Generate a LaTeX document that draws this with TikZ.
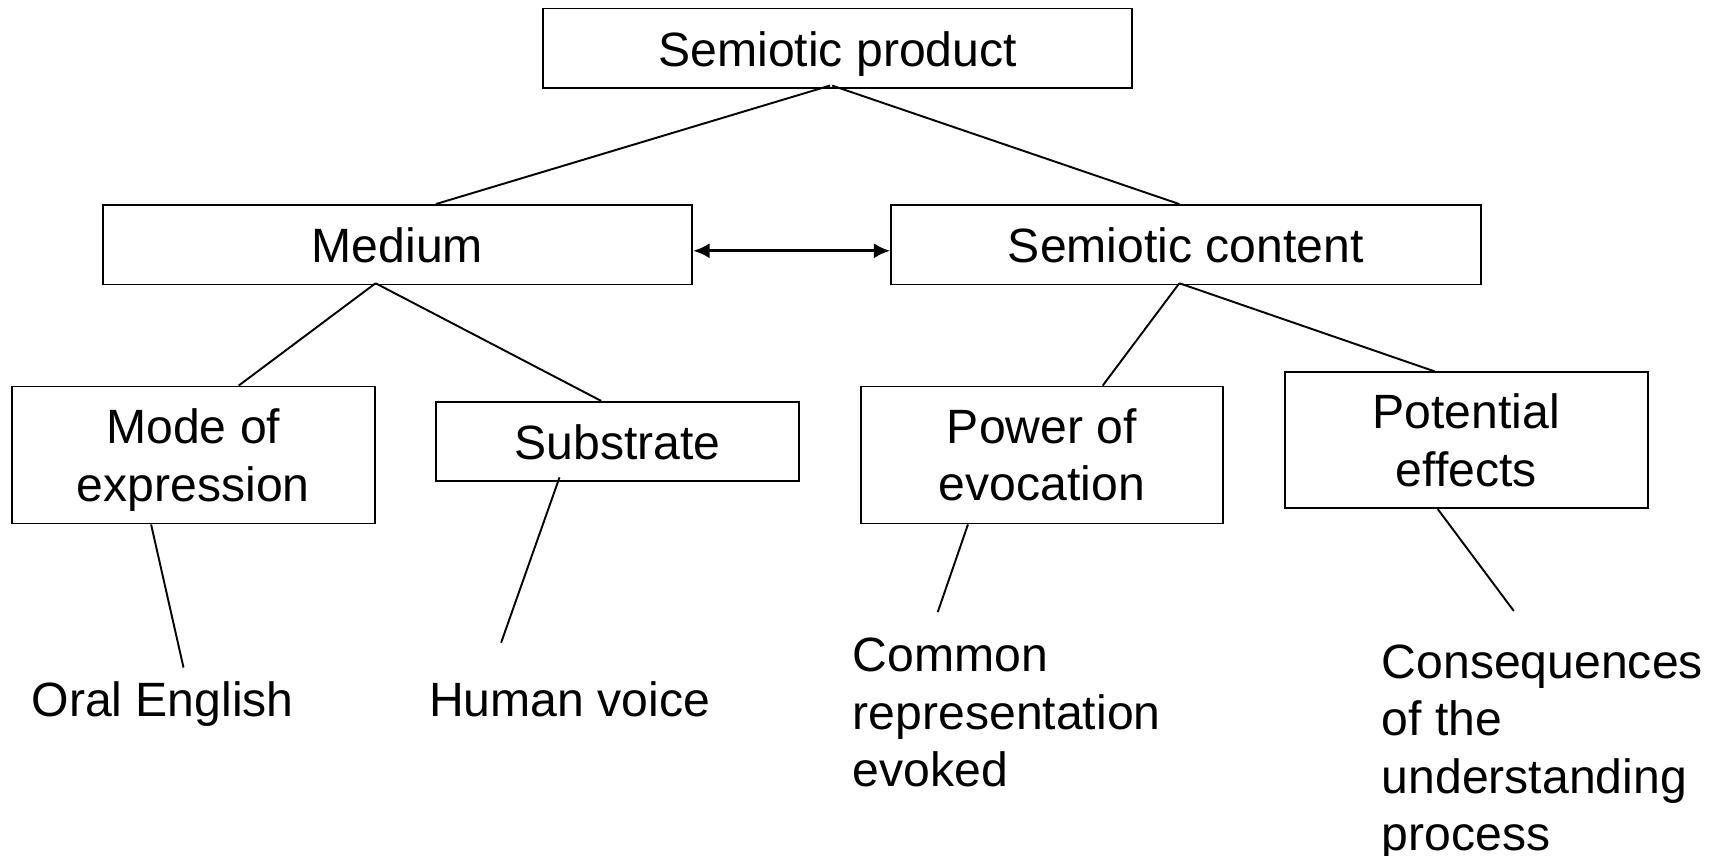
\documentclass[tikz,border=0pt]{standalone}
\usepackage{fontspec}
\setmainfont{Liberation Sans}
\usetikzlibrary{arrows.meta}

\begin{document}
\begin{tikzpicture}[x=0.01cm,y=-0.01cm,-,>={Latex[length=1.5mm,width=1.4mm]},line width=0.5pt,
    box/.style={rectangle,draw,inner sep=0pt,align=center,font=\fontsize{12.5}{14.9}\selectfont},
    wide box/.style={box,minimum width=5.38cm,minimum height=0.725cm,text height=0.33cm,text depth=0pt},
    small box/.style={box,minimum width=3.31cm,minimum height=0.72cm,text height=0.33cm,text depth=0pt},
    tall box/.style={box,minimum width=3.31cm,minimum height=1.25cm},
    leaf/.style={inner sep=0pt,align=left,font=\fontsize{12.5}{14.9}\selectfont}]

            \useasboundingbox (0,0) rectangle (1568,781.7);

            \node[wide box] (prod) at (765,44) {Semiotic product};
            \node[wide box] (medium) at (363,223.5) {Medium};
            \node[wide box] (content) at (1083,223.5) {Semiotic content};
            \node[tall box] (mode) at (176.5,415.5) {Mode of\\\smash{expression}};
            \node[small box] (substrate) at (564,403) {Substrate};
            \node[tall box] (power) at (951.5,415.5) {Power of\\evocation};
            \node[tall box, minimum height=1.24cm] (potential) at (1339,402) {Potential\\effects};

            \node[leaf, anchor=west] (oral) at (28,643) {Oral English};
            \node[leaf, anchor=west] (voice) at (391,639) {Human voice};
            \node[leaf, anchor=north west] (common) at (778,582) {Common\\representation\\evoked};
            \node[leaf, anchor=north west] (conseq) at (1261,588) {Consequences\\of the\\understanding\\process};

                \draw[-] ([xshift=-0.07cm,yshift=0.03cm]prod.south) to ([xshift=0.35cm]medium.north);
                \draw[-] ([xshift=-0.05cm,yshift=0.03cm]prod.south) to ([xshift=-0.06cm]content.north);
                \draw[<->, line width=0.8pt] ([yshift=-0.055cm]medium.east) to ([yshift=-0.055cm]content.west);
                \draw[-] ([xshift=-0.2cm,yshift=0.02cm]medium.south) to ([xshift=0.415cm]mode.north);
                \draw[-] ([xshift=-0.2cm,yshift=0.02cm]medium.south) to ([xshift=-0.15cm]substrate.north);
                \draw[-] ([xshift=-0.06cm,yshift=0.02cm]content.south) to ([xshift=0.555cm]power.north);
                \draw[-] ([xshift=-0.06cm,yshift=0.02cm]content.south) to ([xshift=-0.29cm]potential.north);
                \draw[-] ([xshift=-0.385cm]mode.south) to ([xshift=0.19cm,yshift=0.12cm]oral.north);
                \draw[-] ([xshift=-0.53cm,yshift=0.04cm]substrate.south) to ([xshift=-0.625cm,yshift=0.35cm]voice.north);
                \draw[-] ([xshift=-0.675cm]power.south) to ([xshift=-0.63cm,yshift=0.23cm]common.north);
                \draw[-] ([xshift=-0.26cm]potential.south) to ([xshift=-0.26cm,yshift=0.3cm]conseq.north);
            ;
        \end{tikzpicture}
\end{document}
